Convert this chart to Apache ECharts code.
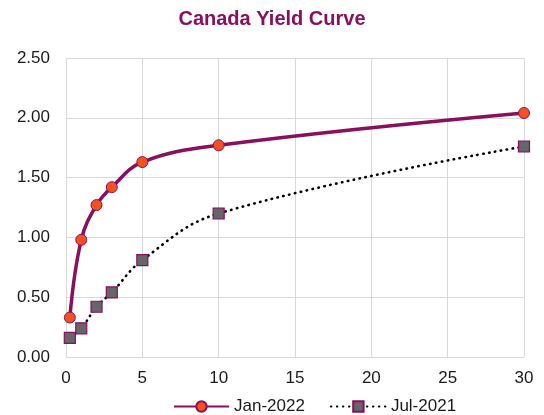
<!DOCTYPE html>
<html>
<head>
<meta charset="utf-8">
<script src="https://cdn.jsdelivr.net/npm/echarts@6/dist/echarts.min.js"></script>
<style>
  html, body { margin: 0; padding: 0; background: #fff; }
  #chart { width: 544px; height: 415px; }
</style>
</head>
<body>
<div id="chart"></div>
<script>
// Term to maturity (years)
const maturities = [0.25, 1, 2, 3, 5, 10, 30];
// Yields (%)
const jan2022 = [0.33, 0.98, 1.27, 1.42, 1.63, 1.77, 2.04];
const jul2021 = [0.16, 0.24, 0.42, 0.54, 0.81, 1.20, 1.76];
const seriesNames = ['Jan-2022', 'Jul-2021'];

const purple = '#8A0F5C';
const font = 'Liberation Sans, Arial, sans-serif';

const pairs = (xs, ys) => xs.map((x, i) => [x, ys[i]]);

const chart = echarts.init(document.getElementById('chart'));
chart.setOption({
  animation: false,
  title: {
    text: 'Canada Yield Curve',
    left: 'center',
    top: 4,
    textStyle: { fontFamily: font, fontSize: 20, fontWeight: 'bold', color: purple }
  },
  grid: { left: 66, right: 20, top: 58, bottom: 58 },
  legend: {
    left: 168,
    top: 393,
    itemWidth: 55,
    itemHeight: 13,
    itemGap: 25,
    textStyle: { fontFamily: font, fontSize: 17, color: '#1a1a1a' },
    data: seriesNames
  },
  xAxis: {
    type: 'value',
    min: 0, max: 30, interval: 5,
    axisLine: { show: false },
    axisTick: { show: false },
    splitLine: { show: true, lineStyle: { color: '#d9d9d9', width: 1 } },
    axisLabel: { fontFamily: font, fontSize: 17, color: '#1a1a1a', margin: 13 }
  },
  yAxis: {
    type: 'value',
    min: 0, max: 2.5, interval: 0.5,
    axisLine: { show: false },
    axisTick: { show: false },
    splitLine: { show: true, lineStyle: { color: '#d9d9d9', width: 1 } },
    axisLabel: {
      fontFamily: font, fontSize: 17, color: '#1a1a1a', margin: 16,
      formatter: v => v.toFixed(2)
    }
  },
  series: [
    {
      name: seriesNames[0],
      type: 'line',
      data: pairs(maturities, jan2022),
      smooth: 0.4,
      symbol: 'circle',
      symbolSize: 11,
      lineStyle: { color: purple, width: 3.5 },
      itemStyle: { color: '#F4511E', borderColor: purple, borderWidth: 1 },
      z: 3
    },
    {
      name: seriesNames[1],
      type: 'line',
      data: pairs(maturities, jul2021),
      smooth: 0.4,
      symbol: 'rect',
      symbolSize: 11,
      lineStyle: { color: '#000', width: 2.6, type: [0.5, 5.5], cap: 'round' },
      itemStyle: { color: '#64666B', borderColor: purple, borderWidth: 1.2 },
      z: 2
    }
  ]
});
</script>
</body>
</html>
